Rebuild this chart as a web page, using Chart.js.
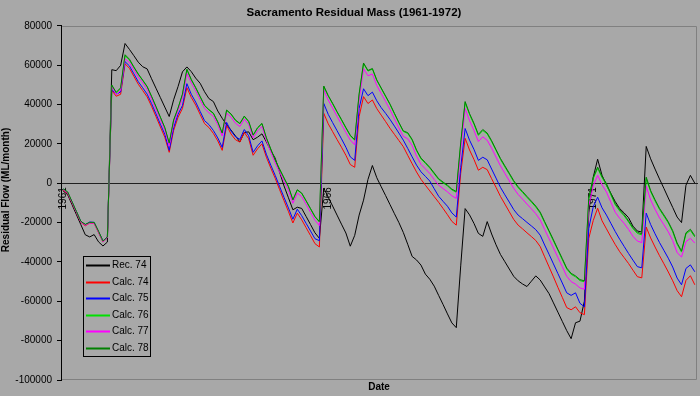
<!DOCTYPE html>
<html>
<head>
<meta charset="utf-8">
<title>Sacramento Residual Mass</title>
<script src="https://cdn.jsdelivr.net/npm/chart.js@4.4.1/dist/chart.umd.min.js"></script>
<style>
  html, body { margin: 0; padding: 0; background: #a8a8a8; }
  #wrap { width: 700px; height: 396px; }
</style>
</head>
<body>
<div id="wrap"><canvas id="grafico" width="700" height="396"></canvas></div>
<script>
// categories: one per month, Jan 1961 .. Dec 1972
const years = [1961, 1962, 1963, 1964, 1965, 1966, 1967, 1968, 1969, 1970, 1971, 1972];
const months = [];
years.forEach(y => {
  for (let m = 1; m <= 12; m++) months.push(y + "-" + String(m).padStart(2, "0"));
});
// only these years get a label on the date axis
const yearTicks = ["1961", "1966", "1971"];

// residual flow, ML/month
const rec74 = [
  -4000, -5800, -10900, -16000, -21100, -26200, -27300, -26100, -29800, -31900, -29900, 57700,
  57200, 59900, 71000, 68000, 64800, 61500, 59200, 58100, 53100, 48300, 43500, 38700,
  33900, 42400, 49100, 56600, 59100, 56700, 53400, 50800, 46500, 43000, 41500, 36700,
  33000, 29700, 27000, 24000, 21000, 25800, 26100, 22100, 23400, 25100, 21000, 16700,
  12700, 5600, -1400, -7400, -13500, -12200, -12800, -16900, -21000, -25200, -28000, -2500,
  -7100, -11600, -16200, -20800, -25300, -32000, -26500, -16200, -8600, 1900, 9000, 2800,
  -1800, -6300, -10900, -15500, -20000, -25000, -31000, -37200, -39000, -41600, -46200, -48800,
  -52300, -57000, -61600, -66400, -71000, -73400, -42000, -12900, -16100, -20400, -25500, -27000,
  -19500, -25800, -31300, -36200, -39900, -43600, -47300, -49600, -51200, -52500, -49800, -47100,
  -49200, -52700, -56100, -60800, -65500, -70200, -74900, -79000, -70900, -70100, -60000, -15000,
  3000, 12200, 4000, -1000, -5200, -9400, -12900, -15100, -17500, -21800, -24300, -24800,
  18700, 12400, 7200, 2200, -2600, -7500, -12300, -17200, -20000, -1000, 4000, 0
];
const calc74 = [
  -3500, -5200, -10100, -15000, -19900, -21600, -20200, -20400, -25100, -29800, -27800, 47100,
  44200, 45200, 60700, 58400, 54300, 50300, 47100, 43900, 39100, 33900, 28600, 23400,
  15700, 26800, 33500, 38000, 48600, 43600, 39700, 35000, 30300, 28300, 25300, 21500,
  16700, 29400, 25000, 22100, 20900, 25800, 22600, 14200, 17500, 20000, 13200, 7700,
  2500, -3300, -8900, -14400, -20200, -15200, -18600, -22600, -26600, -30700, -32400, 35500,
  30200, 26200, 22200, 18300, 14200, 9500, 8100, 33900, 44000, 40500, 42300, 37900,
  34600, 31300, 27900, 24800, 21700, 18600, 14200, 9900, 5700, 2000, -1000, -3900,
  -6800, -9700, -12800, -16000, -19400, -21300, 5000, 22800, 16900, 12100, 6600, 8100,
  6900, 2300, -2100, -6700, -10600, -14500, -18400, -21300, -23200, -25200, -27100, -29100,
  -32200, -37400, -42500, -47600, -52900, -58000, -63200, -64300, -62800, -65800, -66800, -28000,
  -19000, -12700, -19100, -23200, -27300, -31200, -34800, -37800, -40800, -44200, -47500, -48100,
  -22300, -27800, -32400, -36800, -40900, -45100, -49600, -54600, -57700, -49400, -47000, -51600
];
const calc75 = [
  -3000, -4700, -9600, -14500, -19400, -21100, -19700, -19900, -24600, -29300, -27300, 47600,
  45200, 46400, 61800, 59600, 55600, 51600, 48500, 45300, 40500, 35300, 30000, 24900,
  16700, 28200, 35000, 39500, 50600, 45200, 41200, 36500, 31800, 29800, 26800, 23000,
  18200, 30900, 26500, 23600, 22300, 27300, 24100, 15700, 19000, 21500, 14700, 9200,
  4000, -1700, -7200, -12600, -18300, -13200, -16500, -20400, -24300, -28200, -29200, 40500,
  35000, 30800, 26700, 22600, 18300, 13400, 11600, 38000, 48000, 44500, 46300, 41900,
  38400, 35500, 32400, 29000, 25500, 21900, 17700, 13400, 9200, 5800, 3500, 1100,
  -2800, -6600, -9200, -11700, -15100, -17200, 8000, 27800, 21900, 17200, 11600, 13200,
  11900, 7200, 2600, -2100, -5900, -9600, -13400, -16200, -18000, -19900, -21700, -23600,
  -26400, -31400, -36100, -41000, -45900, -50700, -55700, -57000, -55700, -61000, -62800, -23000,
  -12000, -7100, -12500, -16200, -20400, -24600, -28500, -32100, -35700, -39100, -42400, -43000,
  -15200, -21000, -25700, -30100, -34100, -38100, -42600, -48200, -51600, -43300, -41500, -45000
];
const calc76 = [
  -3000, -4500, -9500, -14500, -19500, -21000, -20000, -20000, -24500, -29500, -27500, 49600,
  45800, 48100, 64800, 62600, 58800, 55300, 52200, 49000, 44000, 38800, 33400, 28100,
  20200, 31900, 38000, 45000, 57700, 52500, 48400, 43900, 39400, 37200, 35400, 31000,
  25300, 37000, 35000, 31900, 30200, 33900, 31200, 24300, 28000, 30200, 22900, 17200,
  11600, 7000, 2500, -1900, -8600, -3500, -5200, -9100, -13100, -17100, -19700, 49000,
  44300, 40300, 36100, 32100, 28000, 24100, 21800, 45000, 60800, 57000, 58000, 52200,
  48100, 44000, 39900, 35200, 30600, 26300, 25300, 21900, 16500, 12400, 10100, 7700,
  4800, 1900, 200, -1400, -3400, -4600, 20000, 41000, 34900, 30000, 24300, 26800,
  25000, 21100, 16600, 12100, 8300, 4600, 800, -2300, -4700, -7200, -9600, -12100,
  -15200, -20000, -24600, -29300, -34100, -38800, -43600, -46300, -47600, -49500, -50100, -8000,
  2300, 7600, 2900, -800, -5900, -11000, -14100, -16600, -19700, -23100, -25500, -26300,
  2500, -4300, -9000, -13300, -16700, -20200, -24700, -31000, -35000, -25800, -24000, -27300
];
const calc77 = [
  -3200, -4800, -9800, -14800, -19700, -21300, -20200, -20300, -24800, -29700, -27700, 49000,
  45000, 47200, 63200, 61300, 57600, 54000, 51000, 47800, 42800, 37600, 32200, 26900,
  19000, 30500, 36800, 43600, 55800, 51000, 47000, 42500, 38000, 35800, 34000, 29700,
  24000, 35600, 33600, 30500, 28800, 32600, 29900, 23000, 26600, 28900, 21600, 15900,
  10300, 5600, 1100, -3400, -10200, -5000, -6800, -10700, -14800, -18800, -21500, 47500,
  42300, 38200, 34000, 29900, 25800, 21900, 19500, 42500, 58200, 54600, 55500, 49700,
  45600, 41500, 37400, 32700, 28100, 23800, 22600, 19200, 13800, 9600, 7300, 4900,
  1900, -1000, -2700, -4400, -6400, -7700, 17000, 38000, 31800, 26800, 21200, 23600,
  21800, 17800, 13300, 8800, 5000, 1200, -2600, -5700, -8100, -10600, -13000, -15500,
  -18700, -23500, -28200, -32900, -37700, -42400, -47300, -50000, -51300, -53200, -53900, -11500,
  -1300, 4000, -800, -4500, -9700, -14800, -17900, -20400, -23500, -27000, -29400, -30200,
  -1500, -8500, -13200, -17600, -21100, -24700, -29200, -35300, -37500, -29700, -28000, -30400
];
const calc78 = [
  -2900, -4400, -9400, -14400, -19400, -20900, -19900, -19900, -24400, -29400, -27400, 49900,
  46200, 48500, 65300, 63000, 59100, 55500, 52400, 49200, 44200, 39000, 33600, 28300,
  20400, 32100, 38200, 45300, 57900, 52700, 48600, 44100, 39600, 37400, 35600, 31200,
  25500, 37200, 35200, 32100, 30400, 34100, 31400, 24500, 28200, 30400, 23100, 17400,
  11800, 7200, 2700, -1700, -8400, -3300, -5000, -8900, -12900, -16900, -19500, 49400,
  44600, 40600, 36400, 32400, 28300, 24400, 22100, 45400, 61100, 57300, 58300, 52500,
  48400, 44300, 40200, 35500, 30900, 26600, 25700, 22300, 16900, 12800, 10500, 8100,
  5200, 2300, 600, -1000, -3000, -4200, 20500, 41500, 35400, 30500, 24800, 27300,
  25500, 21600, 17100, 12600, 8800, 5100, 1300, -1800, -4200, -6700, -9100, -11600,
  -14700, -19500, -24100, -28800, -33600, -38300, -43100, -45800, -47100, -49000, -49600, -7500,
  2900, 8200, 3500, -200, -5300, -10400, -13500, -16000, -19100, -22500, -24900, -25700,
  3100, -3700, -8400, -12700, -16100, -19600, -24100, -30400, -34400, -25200, -23400, -26700
];

const seriesNames = ["Rec. 74", "Calc. 74", "Calc. 75", "Calc. 76", "Calc. 77", "Calc. 78"];
const seriesColors = ["#000000", "#ff0000", "#0000ff", "#00e000", "#ff00ff", "#008000"];
const seriesData = [rec74, calc74, calc75, calc76, calc77, calc78];

const fontFam = '"Liberation Sans", Arial, sans-serif';
const bgColor = "#a8a8a8";

// background, plot frame, y title and the boxed legend
const decor = {
  id: "decor",
  beforeDraw(chart) {
    const { ctx, chartArea: a } = chart;
    ctx.save();
    ctx.fillStyle = bgColor;
    ctx.fillRect(0, 0, chart.width, chart.height);
    ctx.strokeStyle = "#808080";
    ctx.lineWidth = 1;
    const l = Math.round(a.left) + 0.5, t = Math.round(a.top) + 0.5;
    const r = Math.round(a.right) - 0.5, b = Math.round(a.bottom) - 0.5;
    ctx.beginPath();
    ctx.moveTo(l, t); ctx.lineTo(r, t); ctx.lineTo(r, b); ctx.lineTo(l, b);
    ctx.stroke();
    ctx.restore();
  },
  afterDraw(chart) {
    const ctx = chart.ctx;
    ctx.save();
    ctx.fillStyle = "#000";
    ctx.font = "bold 10px " + fontFam;
    ctx.textAlign = "center";
    ctx.textBaseline = "middle";
    ctx.translate(6, 190);
    ctx.rotate(-Math.PI / 2);
    ctx.fillText("Residual Flow (ML/month)", 0, 0);
    ctx.restore();

    // legend box
    ctx.save();
    ctx.strokeStyle = "#000";
    ctx.lineWidth = 1;
    ctx.strokeRect(83.5, 256.5, 67, 100);
    ctx.font = "10px " + fontFam;
    ctx.textBaseline = "middle";
    ctx.textAlign = "left";
    chart.data.datasets.forEach((ds, i) => {
      const y = Math.round(265 + i * 16.6) + 0.5;
      ctx.strokeStyle = ds.borderColor;
      ctx.lineWidth = 2;
      ctx.beginPath();
      ctx.moveTo(86, y);
      ctx.lineTo(110, y);
      ctx.stroke();
      ctx.fillStyle = "#000";
      ctx.fillText(ds.label, 112, y);
    });
    ctx.restore();
  }
};

const datasets = seriesData.map((d, i) => ({
  label: seriesNames[i],
  data: d,
  borderColor: seriesColors[i],
  backgroundColor: seriesColors[i],
  borderWidth: 1,
  pointRadius: 0,
  tension: 0,
  fill: false,
  xAxisID: "x",
  yAxisID: "y",
  order: seriesData.length - i   // later series on top
}));

new Chart(document.getElementById("grafico"), {
  type: "line",
  data: { labels: months, datasets: datasets },
  options: {
    responsive: false,
    animation: false,
    devicePixelRatio: 1,
    layout: { padding: { left: 11, right: 3, top: 1, bottom: 3 } },
    plugins: {
      legend: { display: false },
      tooltip: { enabled: false },
      title: {
        display: true,
        text: "Sacramento Residual Mass (1961-1972)",
        color: "#000",
        font: { family: fontFam, size: 11.5, weight: "bold" },
        padding: { top: 5, bottom: 6 }
      }
    },
    scales: {
      x: {
        type: "category",
        position: { y: 0 },
        offset: true,
        grid: {
          offset: true,
          drawOnChartArea: false,
          drawTicks: true,
          tickLength: 3,
          color: c => (c.index % 12 === 0 ? "#000000" : "rgba(0,0,0,0)")
        },
        border: { display: true, color: "#202020", width: 1 },
        ticks: {
          autoSkip: false,
          minRotation: 90,
          maxRotation: 90,
          padding: 1,
          color: "#000",
          font: { family: fontFam, size: 10 },
          callback: (v, i) => {
            const [yy, mm] = months[i].split("-");
            if (mm !== "01") return null;
            return yearTicks.includes(yy) ? yy : "";
          }
        }
      },
      x2: {
        type: "category",
        position: "bottom",
        grid: { display: false, drawTicks: false },
        border: { display: false },
        ticks: { display: false },
        title: {
          display: true,
          text: "Date",
          color: "#000",
          font: { family: fontFam, size: 10, weight: "bold" },
          padding: { top: 1, bottom: 0 }
        }
      },
      y: {
        min: -100000,
        max: 80000,
        afterFit: s => { s.width = 50; },
        grid: { drawOnChartArea: false, drawTicks: true, tickLength: 4, color: "#000" },
        border: { display: true, color: "#000" },
        ticks: {
          stepSize: 20000,
          padding: 5,
          color: "#000",
          font: { family: fontFam, size: 10 },
          callback: v => String(v)
        }
      }
    }
  },
  plugins: [decor]
});
</script>
</body>
</html>
